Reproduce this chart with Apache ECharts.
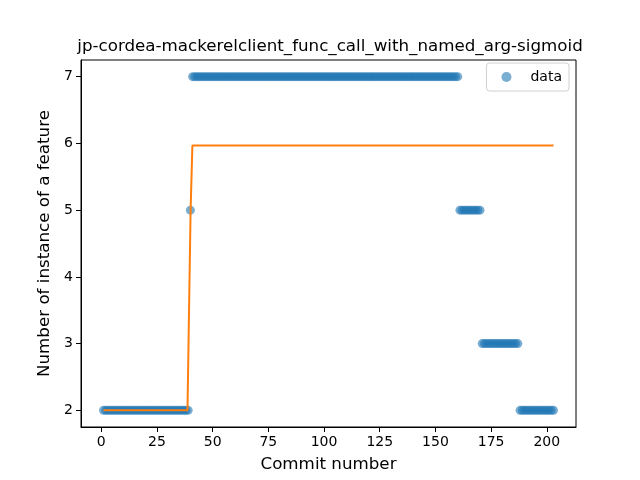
<!DOCTYPE html>
<html>
<head>
<meta charset="utf-8">
<script src="https://cdn.jsdelivr.net/npm/echarts@6/dist/echarts.min.js"></script>
<style>
  html, body { margin: 0; padding: 0; background: #fff; }
  #chart { width: 640px; height: 480px; }
</style>
</head>
<body>
<div id="chart"></div>
<script>
// feature count per commit, commit numbers start at 1
const counts = [
  2,2,2,2,2,2,2,2,2,2,2,2,2,2,2,2,2,2,2,2,
  2,2,2,2,2,2,2,2,2,2,2,2,2,2,2,2,2,2,2,
  5,
  7,7,7,7,7,7,7,7,7,7,7,7,7,7,7,7,7,7,7,7,
  7,7,7,7,7,7,7,7,7,7,7,7,7,7,7,7,7,7,7,7,
  7,7,7,7,7,7,7,7,7,7,7,7,7,7,7,7,7,7,7,7,
  7,7,7,7,7,7,7,7,7,7,7,7,7,7,7,7,7,7,7,7,
  7,7,7,7,7,7,7,7,7,7,7,7,7,7,7,7,7,7,7,7,
  7,7,7,7,7,7,7,7,7,7,7,7,7,7,7,7,7,7,7,7,
  5,5,5,5,5,5,5,5,5,5,
  3,3,3,3,3,3,3,3,3,3,3,3,3,3,3,3,3,
  2,2,2,2,2,2,2,2,2,2,2,2,2,2,2,2
];

// fitted sigmoid
const fitX = [1, 38.7, 40.1, 40.9, 203];
const fitY = [2.0, 2.0, 5.0, 5.97, 5.97];

const xTicks = [0, 25, 50, 75, 100, 125, 150, 175, 200];
const yTicks = [2, 3, 4, 5, 6, 7];

const FONT = 'DejaVu Sans';

const scatterData = counts.map((v, i) => [i + 1, v]);
const lineData = fitX.map((x, i) => [x, fitY[i]]);

const chart = echarts.init(document.getElementById('chart'));
chart.setOption({
  animation: false,
  backgroundColor: '#fff',
  title: {
    text: 'jp-cordea-mackerelclient_func_call_with_named_arg-sigmoid',
    left: 325,
    textAlign: 'center',
    top: 33,
    textStyle: { fontFamily: FONT, fontSize: 16.7, fontWeight: 'normal', color: '#000' }
  },
  grid: {
    left: 81, right: 64, top: 60, bottom: 53,
    show: true, borderColor: '#000', borderWidth: 1
  },
  legend: {
    data: ['data'],
    right: 71,
    top: 63,
    orient: 'vertical',
    icon: 'circle',
    itemWidth: 10,
    itemHeight: 10,
    itemGap: 4,
    padding: [7, 7, 7, 15],
    borderColor: '#d0d0d0',
    borderWidth: 1,
    borderRadius: 3,
    itemStyle: { opacity: 0.6 },
    textStyle: { fontFamily: FONT, fontSize: 14, color: '#000', padding: [0, 0, 0, 14] }
  },
  xAxis: {
    type: 'value',
    min: -9.1,
    max: 213.1,
    name: 'Commit number',
    nameLocation: 'middle',
    nameGap: 29,
    nameTextStyle: { fontFamily: FONT, fontSize: 16.7, color: '#000' },
    axisLine: { onZero: false, lineStyle: { color: '#000', width: 1 } },
    axisTick: { show: true, length: 5, lineStyle: { color: '#000' }, customValues: xTicks },
    axisLabel: { fontFamily: FONT, fontSize: 14, color: '#000', margin: 8, customValues: xTicks },
    splitLine: { show: false }
  },
  yAxis: {
    type: 'value',
    min: 1.75,
    max: 7.25,
    name: 'Number of instance of a feature',
    nameLocation: 'middle',
    nameGap: 25,
    nameTextStyle: { fontFamily: FONT, fontSize: 16.7, color: '#000' },
    axisLine: { show: true, onZero: false, lineStyle: { color: '#000', width: 1 } },
    axisTick: { show: true, length: 5, lineStyle: { color: '#000' }, customValues: yTicks },
    axisLabel: { fontFamily: FONT, fontSize: 14, color: '#000', margin: 8, customValues: yTicks },
    splitLine: { show: false }
  },
  series: [
    {
      name: 'data',
      type: 'scatter',
      data: scatterData,
      symbol: 'circle',
      symbolSize: 9,
      itemStyle: { color: '#1f77b4', opacity: 0.6 },
      z: 2
    },
    {
      name: 'fit',
      type: 'line',
      data: lineData,
      showSymbol: false,
      lineStyle: { color: '#ff7f0e', width: 2 },
      itemStyle: { color: '#ff7f0e' },
      z: 3
    }
  ]
});
</script>
</body>
</html>
